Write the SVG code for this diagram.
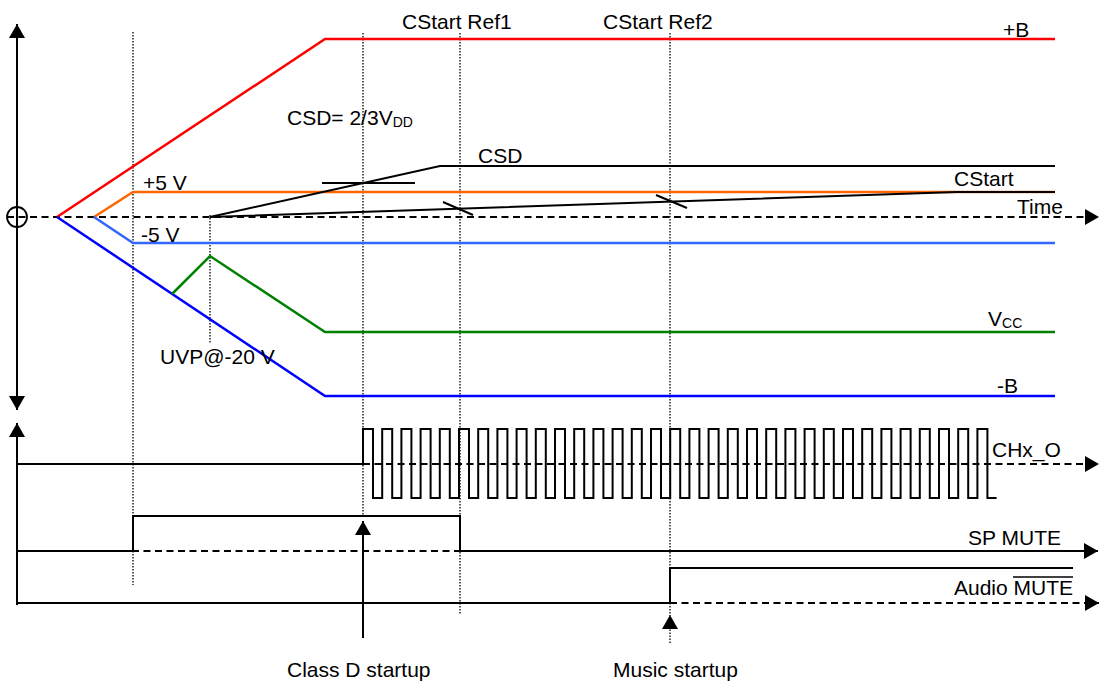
<svg xmlns="http://www.w3.org/2000/svg" width="1099" height="683" viewBox="0 0 1099 683">
<style>
  text { font-family: "Liberation Sans", Arial, sans-serif; font-size: 21px; fill: #000; }
  .sub { font-size: 14px; }
  .axis { stroke: #000; stroke-width: 2; fill: none; }
  .dash { stroke: #000; stroke-width: 2; stroke-dasharray: 7 4.5; fill: none; }
  .dot { stroke: #000; stroke-width: 1.3; stroke-dasharray: 1.5 1.5; fill: none; }
  .sig { stroke: #000; stroke-width: 2; fill: none; stroke-linejoin: miter; }
  .rail { stroke-width: 2.5; fill: none; }
</style>
<defs>
  <marker id="arr" viewBox="0 0 14 16" refX="14" refY="8" markerWidth="14" markerHeight="16" markerUnits="userSpaceOnUse" orient="auto-start-reverse">
    <path d="M0,0 L14,8 L0,16 z" fill="#000" stroke="none"/>
  </marker>
</defs>
<rect width="1099" height="683" fill="#fff"/>

<g id="guides">
  <line class="dot" x1="133" y1="32" x2="133" y2="585"/>
  <line class="dot" x1="210" y1="215" x2="210" y2="344"/>
  <line class="dot" x1="363" y1="33" x2="363" y2="515"/>
  <line class="dot" x1="460" y1="33" x2="460" y2="615"/>
  <line class="dot" x1="670" y1="33" x2="670" y2="615"/>
</g>

<g id="axes">
  <line class="axis" x1="17" y1="24" x2="17" y2="410" marker-start="url(#arr)" marker-end="url(#arr)"/>
  <circle cx="17" cy="217" r="10" fill="none" stroke="#000" stroke-width="1.8"/>
  <line class="dash" x1="7" y1="217" x2="1099" y2="217" marker-end="url(#arr)"/>
  <line class="axis" x1="17" y1="605" x2="17" y2="423" marker-end="url(#arr)"/>
</g>

<g id="rail-plusB">
  <polyline class="rail" stroke="#FF0000" points="57,217 325,39 1055,39"/>
  <text x="1003" y="37">+B</text>
</g>
<g id="rail-minusB">
  <polyline class="rail" stroke="#0000FF" points="57,217 325,396 1055,396"/>
  <text x="997" y="393">-B</text>
</g>
<g id="rail-plus5">
  <polyline class="rail" stroke="#FF6600" points="94,217 133,192 1055,192"/>
  <text x="143" y="190">+5 V</text>
</g>
<g id="rail-minus5">
  <polyline class="rail" stroke="#3366FF" points="94,217 133,243 1055,243"/>
  <text x="141" y="242">-5 V</text>
</g>
<g id="vcc">
  <polyline class="rail" stroke="#008000" points="172,294 210,256 325,332 1055,332"/>
  <text x="988" y="326">V<tspan class="sub" dy="2">CC</tspan></text>
  <text x="160" y="364">UVP@-20 V</text>
</g>
<g id="csd">
  <polyline class="sig" points="210,217 440,166 1055,166"/>
  <line class="sig" x1="322" y1="183" x2="415" y2="183"/>
  <text x="478" y="163">CSD</text>
  <text x="287" y="125">CSD= 2/3V<tspan class="sub" dy="2">DD</tspan></text>
</g>
<g id="cstart">
  <polyline class="sig" points="210,217 957,192 1055,192"/>
  <line class="sig" x1="443" y1="202" x2="473" y2="215"/>
  <line class="sig" x1="656" y1="195" x2="687" y2="208"/>
  <text x="954" y="186">CStart</text>
  <text x="1017" y="214">Time</text>
</g>
<g id="refs">
  <text x="402" y="29">CStart Ref1</text>
  <text x="603" y="29">CStart Ref2</text>
</g>

<g id="chx-o">
  <line class="dash" x1="363" y1="464" x2="1099" y2="464" marker-end="url(#arr)"/>
  <path class="sig" d="M17,464 H363 V429 H373 V498 H382.2 V429 H392.2 V498 H401.4 V429 H411.4 V498 H420.6 V429 H430.6 V498 H439.8 V429 H449.8 V498 H459 V429 H469 V498 H478.2 V429 H488.2 V498 H497.4 V429 H507.4 V498 H516.6 V429 H526.6 V498 H535.8 V429 H545.8 V498 H555 V429 H565 V498 H574.2 V429 H584.2 V498 H593.4 V429 H603.4 V498 H612.6 V429 H622.6 V498 H631.8 V429 H641.8 V498 H651 V429 H661 V498 H670.2 V429 H680.2 V498 H689.4 V429 H699.4 V498 H708.6 V429 H718.6 V498 H727.8 V429 H737.8 V498 H747 V429 H757 V498 H766.2 V429 H776.2 V498 H785.4 V429 H795.4 V498 H804.6 V429 H814.6 V498 H823.8 V429 H833.8 V498 H843 V429 H853 V498 H862.2 V429 H872.2 V498 H881.4 V429 H891.4 V498 H900.6 V429 H910.6 V498 H919.8 V429 H929.8 V498 H939 V429 H949 V498 H958.2 V429 H968.2 V498 H977.4 V429 H987.4 V498 H996.6"/>
  <text x="992" y="457">CHx_O</text>
</g>

<g id="sp-mute">
  <line class="dash" x1="17" y1="551" x2="1090" y2="551"/>
  <polyline class="sig" points="17,551 133,551 133,516 460,516 460,551 1098,551" marker-end="url(#arr)"/>
  <text x="968" y="545">SP MUTE</text>
</g>

<g id="audio-mute">
  <line class="dash" x1="670" y1="603" x2="1099" y2="603" marker-end="url(#arr)"/>
  <polyline class="sig" points="17,603 670,603 670,568 1073,568"/>
  <text x="954" y="595">Audio MUTE</text>
  <line x1="1013" y1="577" x2="1073" y2="577" stroke="#000" stroke-width="1.5"/>
</g>

<g id="connectors">
  <line class="sig" x1="363" y1="638" x2="363" y2="521" marker-end="url(#arr)"/>
  <line class="dot" x1="670" y1="643" x2="670" y2="615" marker-end="url(#arr)"/>
</g>

<g id="events">
  <text x="287" y="677">Class D startup</text>
  <text x="613" y="677">Music startup</text>
</g>
</svg>
